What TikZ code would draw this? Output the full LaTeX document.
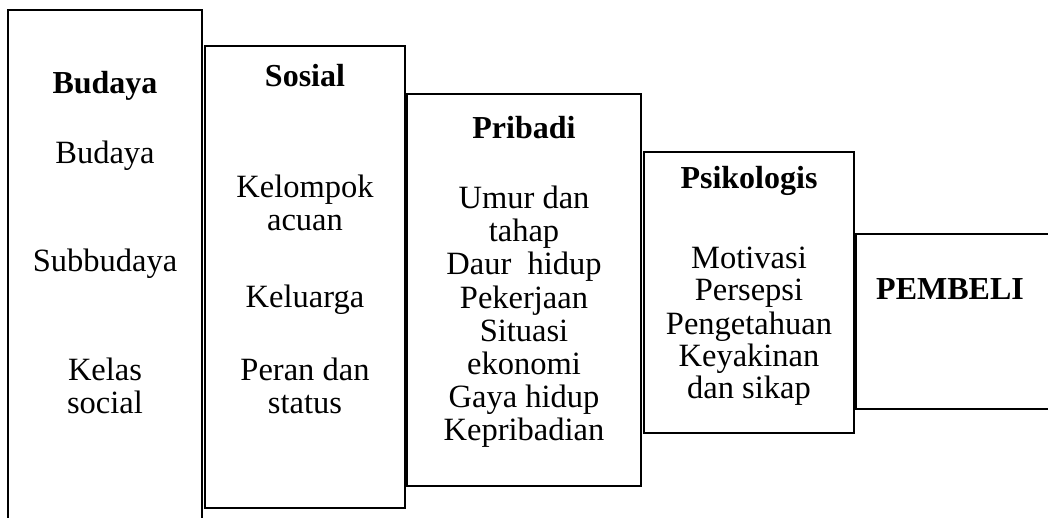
\documentclass[tikz,border=0pt]{standalone}
\usepackage{fontspec}
\setmainfont{Liberation Serif}
\begin{document}
\begin{tikzpicture}[x=1pt,y=-1pt,
  box/.style={draw,line width=1.8pt,anchor=north west,inner sep=0pt,outer sep=0pt},
  txt/.style={anchor=base,inner sep=0pt,font=\fontsize{32.5}{34}\selectfont},
  ttl/.style={anchor=base,inner sep=0pt,font=\fontsize{32}{34}\selectfont\bfseries}]
\useasboundingbox (0,0) rectangle (1048,518);
\clip (0,0) rectangle (1048,518);
% boxes
\node[box,minimum width=194pt,minimum height=560pt] (b1) at (8,10) {};
\node[box,minimum width=200pt,minimum height=462pt] (b2) at (205,46) {};
\node[box,minimum width=234pt,minimum height=392pt] (b3) at (407,94) {};
\node[box,minimum width=210pt,minimum height=281pt] (b4) at (644,152) {};
\node[box,minimum width=250pt,minimum height=175pt] (b5) at (856,234) {};
% Budaya
\node[ttl] (t1) at (105,94) {Budaya};
\node[txt] (a1) at (105,164) {Budaya};
\node[txt] (a2) at (105,272) {Subbudaya};
\node[txt] (a3) at (105,380) {Kelas};
\node[txt] (a4) at (105,413) {social};
% Sosial
\node[ttl] (t2) at (305,87) {Sosial};
\node[txt] (s1) at (305,198) {Kelompok};
\node[txt] (s2) at (305,231) {acuan};
\node[txt] (s3) at (305,307) {Keluarga};
\node[txt] (s4) at (305,380) {Peran dan};
\node[txt] (s5) at (305,413) {status};
% Pribadi
\node[ttl] (t3) at (524,139) {Pribadi};
\node[txt] (p1) at (524,209) {Umur dan};
\node[txt] (p2) at (524,242) {tahap};
\node[txt] (p3) at (524,275) {Daur\ \ hidup};
\node[txt] (p4) at (524,308) {Pekerjaan};
\node[txt] (p5) at (524,341) {Situasi};
\node[txt] (p6) at (524,374) {ekonomi};
\node[txt] (p7) at (524,407) {Gaya hidup};
\node[txt] (p8) at (524,440) {Kepribadian};
% Psikologis
\node[ttl] (t4) at (749,189) {Psikologis};
\node[txt] (k1) at (749,269) {Motivasi};
\node[txt] (k2) at (749,301) {Persepsi};
\node[txt] (k3) at (749,334) {Pengetahuan};
\node[txt] (k4) at (749,366) {Keyakinan};
\node[txt] (k5) at (749,398) {dan sikap};
% Pembeli
\node[ttl] (t5) at (950,299) {PEMBELI};
\end{tikzpicture}
\end{document}
